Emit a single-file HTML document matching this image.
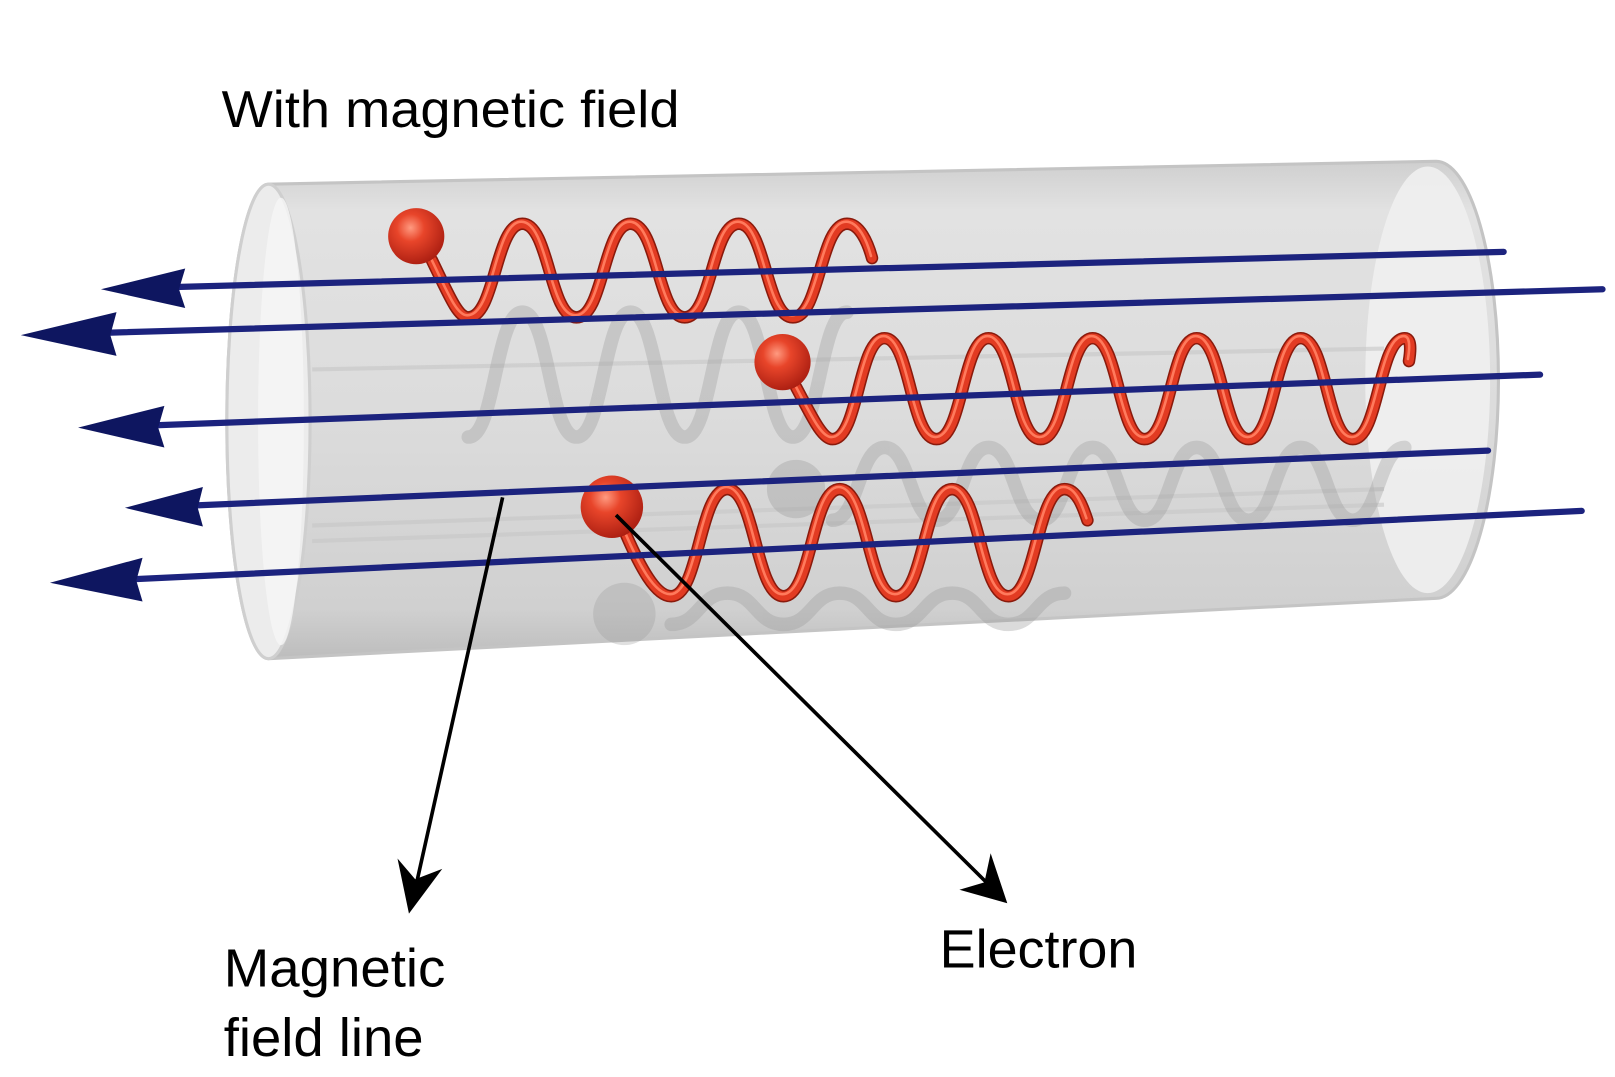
<!DOCTYPE html>
<html><head><meta charset="utf-8"><style>
html,body{margin:0;padding:0;background:#fff;width:1615px;height:1077px;overflow:hidden}
svg{display:block}
</style></head><body>
<svg width="1615" height="1077" viewBox="0 0 1552 1035" preserveAspectRatio="none" xmlns="http://www.w3.org/2000/svg">
<defs>
<linearGradient id="body" x1="0" y1="0" x2="0" y2="1">
<stop offset="0" stop-color="#cfcfcf"/><stop offset="0.1" stop-color="#e2e2e2"/>
<stop offset="0.5" stop-color="#dcdcdc"/><stop offset="0.9" stop-color="#d0d0d0"/><stop offset="1" stop-color="#bdbdbd"/>
</linearGradient>
<radialGradient id="ball" cx="0.4" cy="0.35" r="0.7">
<stop offset="0" stop-color="#ff9a80"/><stop offset="0.35" stop-color="#e8452a"/><stop offset="1" stop-color="#a81c10"/>
</radialGradient>
</defs>
<path d="M258,177 L1380,155 A60,210 0 0 1 1380,575 L258,633 A40,228 0 0 1 258,177 Z" fill="url(#body)" stroke="#c4c4c4" stroke-width="3"/>
<ellipse cx="258" cy="405" rx="40" ry="228" fill="#ececec" stroke="#cfcfcf" stroke-width="3"/>
<ellipse cx="270" cy="405" rx="22" ry="215" fill="#f6f6f6" opacity="0.8"/>
<ellipse cx="1372" cy="365" rx="60" ry="205" fill="#efefef" opacity="0.9"/>
<path d="M300,355 L1330,335 M300,505 L1330,470 M300,520 L1330,485" stroke="#c6c6c6" stroke-width="4" fill="none" opacity="0.6"/>
<g fill="none" stroke="#9a9a9a" stroke-width="13" opacity="0.35" stroke-linecap="round">
<path d="M450,420 c26,0 26,-120 52,-120 c26,0 26,120 52,120 c26,0 26,-120 52,-120 c26,0 26,120 52,120 c26,0 26,-120 52,-120 c26,0 26,120 52,120 c26,0 26,-120 52,-120"/>
<path d="M800,500 c25,0 25,-70 50,-70 c25,0 25,70 50,70 c25,0 25,-70 50,-70 c25,0 25,70 50,70 c25,0 25,-70 50,-70 c25,0 25,70 50,70 c25,0 25,-70 50,-70 c25,0 25,70 50,70 c25,0 25,-70 50,-70 c25,0 25,70 50,70 c25,0 25,-70 50,-70"/>
<path d="M645,600 c27,0 27,-30 54,-30 c27,0 27,30 54,30 c27,0 27,-30 54,-30 c27,0 27,30 54,30 c27,0 27,-30 54,-30 c27,0 27,30 54,30 c27,0 27,-30 54,-30"/>
</g>
<circle cx="765" cy="470" r="28" fill="#999" opacity="0.35"/>
<circle cx="600" cy="590" r="30" fill="#999" opacity="0.3"/>
<defs>
<path id="p1" d="M415,250 C432,285 440,305 450,305 c26,0 26,-90 52,-90 c26,0 26,90 52,90 c26,0 26,-90 52,-90 c26,0 26,90 52,90 c26,0 26,-90 52,-90 c26,0 26,90 52,90 c26,0 26,-90 52,-90 c12,0 20,18 24,33"/>
<path id="p2" d="M765,372 C780,400 790,422 800,422 c25,0 25,-97 50,-97 c25,0 25,97 50,97 c25,0 25,-97 50,-97 c25,0 25,97 50,97 c25,0 25,-97 50,-97 c25,0 25,97 50,97 c25,0 25,-97 50,-97 c25,0 25,97 50,97 c25,0 25,-97 50,-97 c25,0 25,97 50,97 c25,0 25,-97 50,-97 c6,0 6,10 4,22"/>
<path id="p3" d="M600,510 C615,545 630,573 645,573 c27,0 27,-103 54,-103 c27,0 27,103 54,103 c27,0 27,-103 54,-103 c27,0 27,103 54,103 c27,0 27,-103 54,-103 c27,0 27,103 54,103 c27,0 27,-103 54,-103 c12,0 18,18 22,30"/>
</defs>
<g fill="none" stroke-linecap="round">
<use href="#p1" stroke="#8a1a0c" stroke-width="12"/><use href="#p2" stroke="#8a1a0c" stroke-width="12"/><use href="#p3" stroke="#8a1a0c" stroke-width="12"/>
<use href="#p1" stroke="#e23b22" stroke-width="9"/><use href="#p2" stroke="#e23b22" stroke-width="9"/><use href="#p3" stroke="#e23b22" stroke-width="9"/>
<use href="#p1" stroke="#ff7a5c" stroke-width="2.5" transform="translate(-1,-2)"/><use href="#p2" stroke="#ff7a5c" stroke-width="2.5" transform="translate(-1,-2)"/><use href="#p3" stroke="#ff7a5c" stroke-width="2.5" transform="translate(-1,-2)"/>
</g>
<circle cx="400" cy="227" r="27" fill="url(#ball)"/>
<circle cx="752" cy="348" r="27" fill="url(#ball)"/>
<circle cx="588" cy="487" r="30" fill="url(#ball)"/>
<g stroke="#1c237e" stroke-width="6" stroke-linecap="round">
<line x1="160" y1="276" x2="1445" y2="242"/>
<line x1="95" y1="320" x2="1540" y2="278"/>
<line x1="140" y1="409" x2="1480" y2="360"/>
<line x1="180" y1="486" x2="1430" y2="433"/>
<line x1="120" y1="557" x2="1520" y2="491"/>
</g>
<g fill="#0e1660">
<path d="M97,278 L178,258 L172,278 L178,296 Z"/>
<path d="M20,322 L112,300 L106,322 L112,342 Z"/>
<path d="M75,411 L158,390 L152,411 L158,430 Z"/>
<path d="M120,488 L195,468 L190,488 L195,506 Z"/>
<path d="M48,560 L137,536 L131,558 L137,578 Z"/>
</g>
<g stroke="#000" stroke-width="3.5">
<line x1="483" y1="478" x2="400" y2="850"/>
<line x1="592" y1="495" x2="950" y2="850"/>
</g>
<path d="M393,878 L382,825 L399,845 L425,835 Z" fill="#000"/>
<path d="M968,868 L922,855 L946,848 L952,820 Z" fill="#000"/>
<g font-family="Liberation Sans, Arial, sans-serif" fill="#000">
<text x="213" y="122" font-size="50" textLength="440" lengthAdjust="spacingAndGlyphs">With magnetic field</text>
<text x="215" y="948" font-size="52" textLength="213" lengthAdjust="spacingAndGlyphs">Magnetic</text>
<text x="215" y="1015" font-size="52" textLength="192" lengthAdjust="spacingAndGlyphs">field line</text>
<text x="903" y="930" font-size="52" textLength="190" lengthAdjust="spacingAndGlyphs">Electron</text>
</g>
</svg>
</body></html>
